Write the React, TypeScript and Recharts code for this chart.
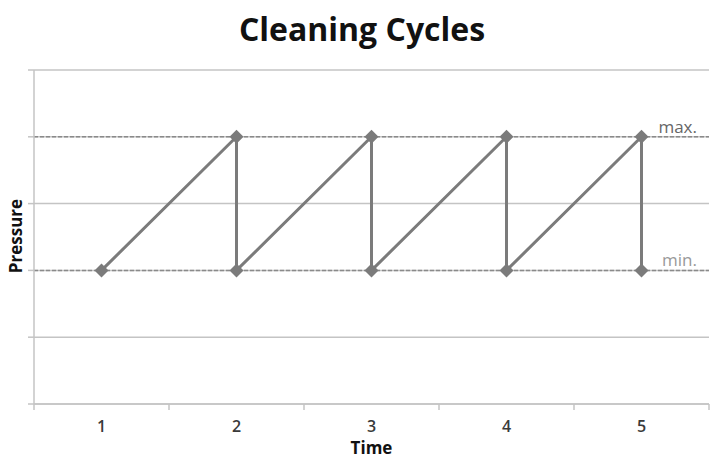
import { LineChart, Line, XAxis, YAxis, CartesianGrid, ReferenceLine } from "recharts";

// sawtooth: pressure climbs to max over one period, then drops back to min
const TIME = [1, 2, 2, 3, 3, 4, 4, 5, 5];
const PRESSURE = [2, 4, 2, 4, 2, 4, 2, 4, 2];
const X_TICKS = [0.5, 1, 1.5, 2, 2.5, 3, 3.5, 4, 4.5, 5, 5.5];
const Y_TICKS = [0, 1, 2, 3, 4, 5];
const MAX_LEVEL = 4;
const MIN_LEVEL = 2;

const data = TIME.map((t, i) => ({ time: t, pressure: PRESSURE[i] }));

const FONT = "'Open Sans', 'Noto Sans', sans-serif";
const AXIS = "#c4c4c4";
const LINE = "#7b7b7b";

function Diamond(props: any) {
  const { cx, cy } = props;
  if (cx == null || cy == null) return null;
  const r = 7;
  return (
    <polygon
      points={`${cx},${cy - r} ${cx + r},${cy} ${cx},${cy + r} ${cx - r},${cy}`}
      fill={LINE}
    />
  );
}

// half-step ticks get a short mark, whole steps get the label
function TimeTick(props: any) {
  const { x, y, payload } = props;
  const v = payload.value as number;
  if (!Number.isInteger(v)) {
    return <line x1={x} y1={y} x2={x} y2={y + 6} stroke={AXIS} strokeWidth={1.5} />;
  }
  return (
    <text x={x} y={y + 28} textAnchor="middle" fontSize={16} fontWeight={600} fill="#3a3a3a" fontFamily={FONT}>
      {v}
    </text>
  );
}

// small text sitting just above the right end of a reference line
function levelLabel(text: string, color: string) {
  return (props: any) => {
    const { viewBox } = props;
    if (!viewBox) return null;
    return (
      <text
        x={viewBox.x + viewBox.width - 12}
        y={viewBox.y - 4}
        textAnchor="end"
        fontSize={17}
        fill={color}
        fontFamily={FONT}
      >
        {text}
      </text>
    );
  };
}

export default function App() {
  return (
    <div style={{ position: "absolute", left: 0, top: 0, width: 712, height: 459, background: "#fff" }}>
      <div
        style={{
          position: "absolute",
          top: 7,
          width: 724,
          textAlign: "center",
          fontFamily: FONT,
          fontWeight: 700,
          fontSize: 32,
          lineHeight: "44px",
          color: "#111",
        }}
      >
        Cleaning Cycles
      </div>
      <LineChart width={712} height={459} data={data} margin={{ top: 70, right: 3, left: 0, bottom: 0 }}>
        <CartesianGrid vertical={false} stroke={AXIS} strokeWidth={1.5} />
        <XAxis
          dataKey="time"
          type="number"
          domain={[0.5, 5.5]}
          ticks={X_TICKS}
          interval={0}
          allowDecimals
          height={55}
          tickLine={false}
          tickSize={0}
          tickMargin={0}
          tick={<TimeTick />}
          axisLine={{ stroke: AXIS, strokeWidth: 1.5 }}
          label={{
            value: "Time",
            position: "insideBottom",
            offset: 5,
            fontFamily: FONT,
            fontWeight: 700,
            fontSize: 17,
            fill: "#111",
          }}
        />
        <YAxis
          type="number"
          domain={[0, 5]}
          ticks={Y_TICKS}
          width={34}
          tickSize={6}
          tickFormatter={() => ""}
          tickLine={{ stroke: AXIS, strokeWidth: 1.5 }}
          axisLine={{ stroke: AXIS, strokeWidth: 1.5 }}
          label={() => (
            <text
              x={17}
              y={236}
              transform="rotate(-90 17 236)"
              textAnchor="middle"
              dominantBaseline="middle"
              fontFamily={FONT}
              fontWeight={700}
              fontSize={17}
              fill="#111"
            >
              Pressure
            </text>
          )}
        />
        <ReferenceLine
          y={MAX_LEVEL}
          stroke="#8a8a8a"
          strokeWidth={1.5}
          strokeDasharray="4 2"
          label={levelLabel("max.", "#666")}
        />
        <ReferenceLine
          y={MIN_LEVEL}
          stroke="#8a8a8a"
          strokeWidth={1.5}
          strokeDasharray="4 2"
          label={levelLabel("min.", "#999")}
        />
        <Line
          type="linear"
          dataKey="pressure"
          stroke={LINE}
          strokeWidth={3}
          dot={<Diamond />}
          activeDot={false}
          isAnimationActive={false}
        />
      </LineChart>
    </div>
  );
}
